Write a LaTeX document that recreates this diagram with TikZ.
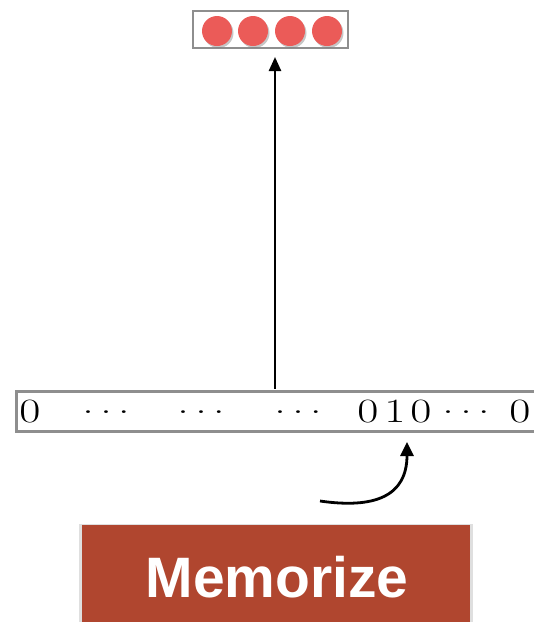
\documentclass[tikz,border=0pt]{standalone}
\usepackage{fontspec}
\setmainfont{Latin Modern Roman}
\newfontfamily\memfont{Liberation Sans}
\usetikzlibrary{arrows.meta,shadows}
\definecolor{dotred}{HTML}{EB5B58}
\definecolor{boxgrey}{HTML}{8E8E8E}
\definecolor{memred}{HTML}{B0462F}
\newcommand\bigbit{\fontsize{34}{34}\selectfont}
\newcommand\wide[1]{\scalebox{1.35}[1]{\bigbit #1}}
\newcommand\onedot{\raisebox{8.5pt}{.}}
\newcommand\mydots{\wide{\onedot\hspace{4.7pt}\onedot\hspace{4.7pt}\onedot}}
\tikzset{
  bit/.style={anchor=base,inner sep=0pt,font=\bigbit},
  dotcirc/.style={circle,fill=dotred,minimum size=30pt,inner sep=0pt,
    drop shadow={shadow xshift=1.5pt,shadow yshift=-2pt,opacity=0.45}},
  arr/.style={line width=2.4pt,-{Triangle[length=14pt,width=12pt]}},
  curvarr/.style={line width=2.8pt,-{Triangle[length=14pt,width=13pt]}},
}
\begin{document}
\begin{tikzpicture}[x=1pt,y=-1pt]
\useasboundingbox (0,0) rectangle (534,622);
\clip (0,0) rectangle (534,622);
% top box
\node[draw=boxgrey,line width=2.5pt,minimum width=155pt,minimum height=37pt,inner sep=0pt] (top) at (270.5,29.5) {};
\foreach \x [count=\i] in {217,253,290,327}
  \node[dotcirc] (c\i) at (\x,31) {};
% bottom row
\node[draw=boxgrey,line width=3pt,minimum width=535pt,minimum height=40pt,inner sep=0pt,anchor=north west] (row) at (15,390) {};
\node[bit] (n0) at (30,422) {\wide{0}};
\node[bit] (d1) at (106,422) {\mydots};
\node[bit] (d2) at (201,422) {\mydots};
\node[bit] (d3) at (298,422) {\mydots};
\node[bit] (b1) at (368,422) {\wide{0}};
\node[bit] (b2) at (395,422) {\wide{1}};
\node[bit] (b3) at (421,422) {\wide{0}};
\node[bit] (d4) at (466,422) {\mydots};
\node[bit] (b4) at (520,422) {\wide{0}};
% vertical arrow
\coordinate (vs) at (275,388.5);
\coordinate (ve) at (275,57);
\draw[arr] (vs) -- (ve);
% curved arrow
\coordinate (cs) at (320,501);
\coordinate (ce) at (407,442);
\draw[curvarr] (cs) .. controls (375,509) and (407,496) .. (ce);
% memorize box
\node[fill=memred,minimum width=388pt,minimum height=110pt,inner sep=0pt,anchor=north west,
  drop shadow={shadow xshift=0pt,shadow yshift=0pt,opacity=0.25,shadow scale=1.015}] (mem) at (82,525) {};
\node[anchor=base,text=white,inner sep=0pt,font=\memfont\bfseries\fontsize{57}{57}\selectfont] (memt) at (277,597) {Memorize};
\end{tikzpicture}
\end{document}
